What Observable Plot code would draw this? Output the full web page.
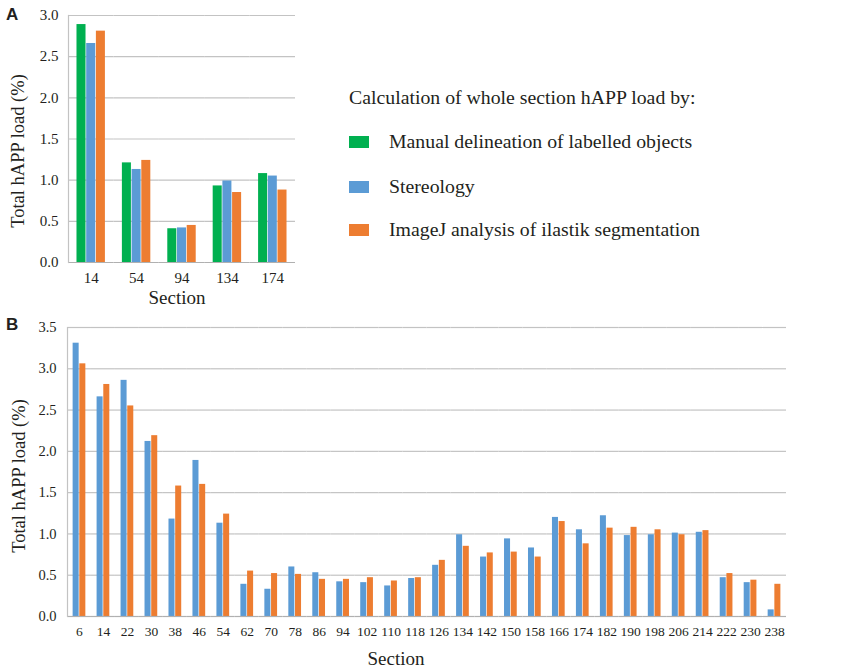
<!DOCTYPE html>
<html>
<head>
<meta charset="utf-8">
<script src="https://cdn.jsdelivr.net/npm/d3@7"></script>
<script src="https://cdn.jsdelivr.net/npm/@observablehq/plot@0.6"></script>
<style>
  body { margin: 0; background: #fff; }
  #wrap { position: relative; width: 850px; height: 670px; font-family: "Liberation Serif", "DejaVu Serif", serif; color: #231f20; overflow: hidden; }
  .abs { position: absolute; white-space: nowrap; line-height: 1; }
  .panel { font-family: "Liberation Sans", Arial, sans-serif; font-weight: bold; font-size: 17px; }
  .title { font-size: 19px; transform: translate(-50%, -50%); }
  .ytitle { font-size: 18.5px; transform: translate(-50%, -50%) rotate(-90deg); }
  .legtitle { font-size: 19.8px; transform: translateY(-50%); }
  .legtext { font-size: 19.8px; transform: translateY(-50%); }
  .sw { position: absolute; width: 20px; height: 12px; }
  #chartA, #chartB { position: absolute; left: 0; }
  #chartA { top: 0; }
  #chartB { top: 310px; }
</style>
</head>
<body>
<div id="wrap">
  <div id="chartA"></div>
  <div id="chartB"></div>
</div>
<script>
// ---------- data ----------
const seriesNames = [
  "Manual delineation of labelled objects",
  "Stereology",
  "ImageJ analysis of ilastik segmentation"
];
const seriesColors = ["#00b050", "#5b9bd5", "#ed7d31"];
const legendTitle = "Calculation of whole section hAPP load by:";

// Panel A
const sectionsA = [14, 54, 94, 134, 174];
const manualA  = [2.89, 1.21, 0.41, 0.93, 1.08];
const stereoA  = [2.66, 1.13, 0.42, 0.99, 1.05];
const imagejA  = [2.81, 1.24, 0.45, 0.85, 0.88];
const yTicksA  = [0, 0.5, 1.0, 1.5, 2.0, 2.5, 3.0];

// Panel B
const sectionsB = [6, 14, 22, 30, 38, 46, 54, 62, 70, 78, 86, 94, 102, 110, 118,
                   126, 134, 142, 150, 158, 166, 174, 182, 190, 198, 206, 214, 222, 230, 238];
const stereoB = [3.31, 2.66, 2.86, 2.12, 1.18, 1.89, 1.13, 0.39, 0.33, 0.60, 0.53, 0.42, 0.41, 0.37, 0.46,
                 0.62, 0.99, 0.72, 0.94, 0.83, 1.20, 1.05, 1.22, 0.98, 0.99, 1.01, 1.02, 0.47, 0.41, 0.08];
const imagejB = [3.06, 2.81, 2.55, 2.19, 1.58, 1.60, 1.24, 0.55, 0.52, 0.51, 0.45, 0.45, 0.47, 0.43, 0.47,
                 0.68, 0.85, 0.77, 0.78, 0.72, 1.15, 0.88, 1.07, 1.08, 1.05, 0.99, 1.04, 0.52, 0.44, 0.39];
const yTicksB = [0, 0.5, 1.0, 1.5, 2.0, 2.5, 3.0, 3.5];

const yLabel = "Total hAPP load (%)";
const xLabel = "Section";

// ---------- tables ----------
const rowsA = [];
sectionsA.forEach((s, i) => {
  rowsA.push({section: s, series: seriesNames[0], value: manualA[i]});
  rowsA.push({section: s, series: seriesNames[1], value: stereoA[i]});
  rowsA.push({section: s, series: seriesNames[2], value: imagejA[i]});
});
const rowsB = [];
sectionsB.forEach((s, i) => {
  rowsB.push({section: s, series: seriesNames[1], value: stereoB[i]});
  rowsB.push({section: s, series: seriesNames[2], value: imagejB[i]});
});

const gridColor = "#c3c3c3";
const fmt = d3.format(".1f");

function makeChart({rows, sections, series, yTicks, width, height, margins, fontSize, yFontSize, fxPad, yPad, xPadInner, xPadOuter}) {
  return Plot.plot({
    width, height,
    marginLeft: margins[0], marginRight: margins[1], marginTop: margins[2], marginBottom: margins[3],
    style: {fontFamily: "'Liberation Serif', serif", fontSize: fontSize + "px", color: "#231f20", background: "transparent", overflow: "visible"},
    fx: {domain: sections, padding: 0, round: false, label: null},
    x: {domain: series, round: false, paddingInner: xPadInner, paddingOuter: xPadOuter},
    y: {domain: [0, yTicks[yTicks.length - 1]], label: null},
    color: {domain: seriesNames, range: seriesColors},
    marks: [
      Plot.ruleY(yTicks.filter(d => d > 0), {stroke: gridColor, strokeWidth: 1.2}),
      Plot.barY(rows, {fx: "section", x: "series", y: "value", fill: "series"}),
      Plot.ruleY([0], {stroke: "#b0b0b0", strokeWidth: 1.2}),
      Plot.frame({anchor: "left", facetAnchor: "left", stroke: gridColor, strokeWidth: 1.2}),
      Plot.axisY({ticks: yTicks, tickFormat: fmt, tickSize: 0, tickPadding: yPad, fontSize: yFontSize, label: null}),
      Plot.axisFx({anchor: "bottom", tickSize: 0, tickPadding: fxPad, fontSize, label: null}),
      Plot.axisX({ticks: [], label: null})
    ]
  });
}

const chartA = makeChart({
  rows: rowsA, sections: sectionsA, series: seriesNames, yTicks: yTicksA,
  width: 310, height: 300, margins: [68, 15, 15, 38], fontSize: 15, yFontSize: 15,
  fxPad: 10, yPad: 10, xPadInner: 0.07, xPadOuter: 0.875
});
document.getElementById("chartA").appendChild(chartA);

const chartB = makeChart({
  rows: rowsB, sections: sectionsB, series: seriesNames.slice(1), yTicks: yTicksB,
  width: 850, height: 360, margins: [67, 64, 17, 54], fontSize: 13.5, yFontSize: 14.5,
  fxPad: 10, yPad: 11, xPadInner: 0.1, xPadOuter: 0.84
});
document.getElementById("chartB").appendChild(chartB);

// ---------- text & legend ----------
const wrap = document.getElementById("wrap");
function addText(txt, cls, left, top) {
  const d = document.createElement("div");
  d.className = "abs " + cls;
  d.textContent = txt;
  d.style.left = left + "px";
  d.style.top = top + "px";
  wrap.appendChild(d);
  return d;
}
addText("A", "panel", 6, 6);
addText("B", "panel", 6, 316);
addText(yLabel, "ytitle", 18, 151);
addText(yLabel, "ytitle", 19, 476);
addText(xLabel, "title", 177, 297);
addText(xLabel, "title", 396, 658);

addText(legendTitle, "legtitle", 349, 98);
const legY = [142, 187, 230];
seriesNames.forEach((name, i) => {
  const sw = document.createElement("div");
  sw.className = "sw";
  sw.style.left = "349px";
  sw.style.top = (legY[i] - 6) + "px";
  sw.style.background = seriesColors[i];
  wrap.appendChild(sw);
  addText(name, "legtext", 389, legY[i]);
});
</script>
</body>
</html>
